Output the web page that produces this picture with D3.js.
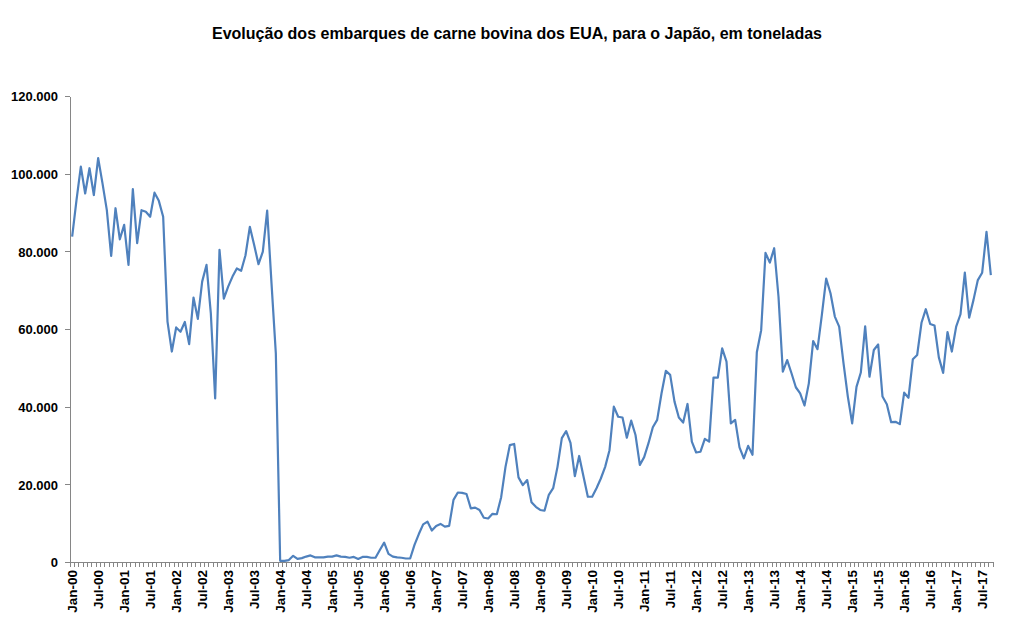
<!DOCTYPE html>
<meta charset="utf-8">
<style type="text/css">
body { margin: 0; background: #fff; }
/* linha da série */
.line {
    fill: none;
    stroke: #4f81bd;
    stroke-width: 2.2px;
    stroke-linejoin: round;
}
.axis path, .axis line, .tick-mark {
    stroke: #868686;
    stroke-width: 1px;
    shape-rendering: crispEdges;
}
.axis text {
    font-family: "Liberation Sans", Arial, sans-serif;
    font-weight: bold;
    fill: #000;
}
.title {
    font-family: "Liberation Sans", Arial, sans-serif;
    font-weight: bold;
    font-size: 16px;
}
</style>
<body>
<script src="https://cdn.jsdelivr.net/npm/d3@7"></script>
<script>

// embarques mensais (toneladas), Jan-00 .. Sep-17
var values = [
  83800, 93200, 101800, 94900, 101400, 94500, 104000, 97500, 90600, 78800, 91100, 83100,
  86800, 76500, 96000, 82100, 90600, 90200, 88900, 95100, 93000, 88900, 61900, 54200,
  60400, 59300, 61800, 56100, 68100, 62600, 72200, 76500, 64000, 42100, 80400, 67800,
  70900, 73500, 75600, 75000, 79000, 86300, 81600, 76700, 79900, 90500, 71800, 53700,
  300, 300, 500, 1600, 800, 1000, 1400, 1700, 1200, 1200, 1200, 1400,
  1400, 1700, 1400, 1300, 1100, 1300, 800, 1300, 1300, 1100, 1100, 3100,
  5000, 2100, 1400, 1200, 1100, 900, 900, 4400, 7200, 9700, 10400, 8100,
  9300, 9800, 9100, 9300, 16000, 17900, 17800, 17500, 13800, 14000, 13400, 11400,
  11200, 12400, 12300, 16700, 24500, 30100, 30400, 21800, 19800, 21100, 15400, 14200,
  13400, 13200, 17300, 19000, 24500, 31900, 33700, 30700, 22100, 27300, 22000, 16800,
  16800, 19000, 21500, 24500, 28800, 40000, 37400, 37200, 32000, 36400, 32700, 25000,
  27000, 30600, 34700, 36600, 43400, 49200, 48200, 41300, 37200, 35900, 40700, 31000,
  28200, 28400, 31700, 31000, 47500, 47500, 55000, 51600, 35700, 36600, 29500, 26700,
  29900, 27600, 54000, 59700, 79600, 77100, 80800, 68300, 49000, 52000, 48600, 45000,
  43400, 40300, 46000, 56900, 54800, 63600, 73000, 69200, 63200, 60600, 51200, 42600,
  35700, 45100, 48800, 60700, 47700, 54600, 56000, 42600, 40600, 36000, 36100, 35500,
  43600, 42300, 52200, 53300, 61600, 65100, 61300, 60900, 52700, 48700, 59200, 54200,
  60600, 63800, 74500, 62900, 67500, 72600, 74500, 85000, 73900
];

var monthNames = ["Jan","Feb","Mar","Apr","May","Jun","Jul","Aug","Sep","Oct","Nov","Dec"];
var years = d3.range(0, 18).map(function(y) { return (y < 10 ? "0" : "") + y; });

// categorias: Jan-00 .. Sep-17
var months = [];
years.forEach(function(y) {
  monthNames.forEach(function(m) { months.push(m + "-" + y); });
});
months = months.slice(0, values.length);

var tickLabels = months.filter(function(m) { return m.indexOf("Jan") === 0 || m.indexOf("Jul") === 0; });
var yTicks = [0, 20000, 40000, 60000, 80000, 100000, 120000];

var width = 1013, height = 632;
var plotLeft = 70, plotRight = 993, plotTop = 96, plotBottom = 562;

var svg = d3.select("body").append("svg")
    .attr("width", width)
    .attr("height", height);

var x = d3.scaleBand().domain(months).range([plotLeft, plotRight]).padding(0);
var y = d3.scaleLinear().domain([0, 120000]).range([plotBottom, plotTop]);

var ptBR = d3.formatLocale({decimal: ",", thousands: ".", grouping: [3], currency: ["", ""]});
var fmt = ptBR.format(",.0f");

// titulo
svg.append("text")
    .attr("class", "title")
    .attr("x", 517)
    .attr("y", 39)
    .attr("text-anchor", "middle")
    .text("Evolução dos embarques de carne bovina dos EUA, para o Japão,  em toneladas");

// eixo y
var yAxis = svg.append("g")
    .attr("class", "axis")
    .attr("transform", "translate(" + plotLeft + ",0)")
    .call(d3.axisLeft(y).tickValues(yTicks).tickFormat(fmt).tickSize(5).tickSizeOuter(0));
yAxis.selectAll("text").style("font-size", "13px").attr("dx", "-4").attr("dy", "0.36em");

// eixo x (rótulos nos centros das categorias)
var xAxis = svg.append("g")
    .attr("class", "axis")
    .attr("transform", "translate(0," + plotBottom + ")")
    .call(d3.axisBottom(x).tickValues(tickLabels).tickSize(0).tickSizeOuter(0));
xAxis.selectAll(".tick line").remove();
xAxis.selectAll("text")
    .style("font-size", "13.5px")
    .attr("text-anchor", "end")
    .attr("transform", "rotate(-90)")
    .attr("x", -8)
    .attr("y", 0)
    .attr("dy", "0.36em");

// marcas mensais entre as categorias
svg.append("g").selectAll("line")
    .data(months.concat(["end"]))
    .enter().append("line")
    .attr("class", "tick-mark")
    .attr("x1", function(d) { return d === "end" ? plotRight : x(d); })
    .attr("x2", function(d) { return d === "end" ? plotRight : x(d); })
    .attr("y1", plotBottom)
    .attr("y2", plotBottom + 5);

var line = d3.line()
    .x(function(d, i) { return x(months[i]) + x.bandwidth() / 2; })
    .y(function(d) { return y(d); });

svg.append("path")
    .datum(values)
    .attr("class", "line")
    .attr("d", line);

</script>
</body>
